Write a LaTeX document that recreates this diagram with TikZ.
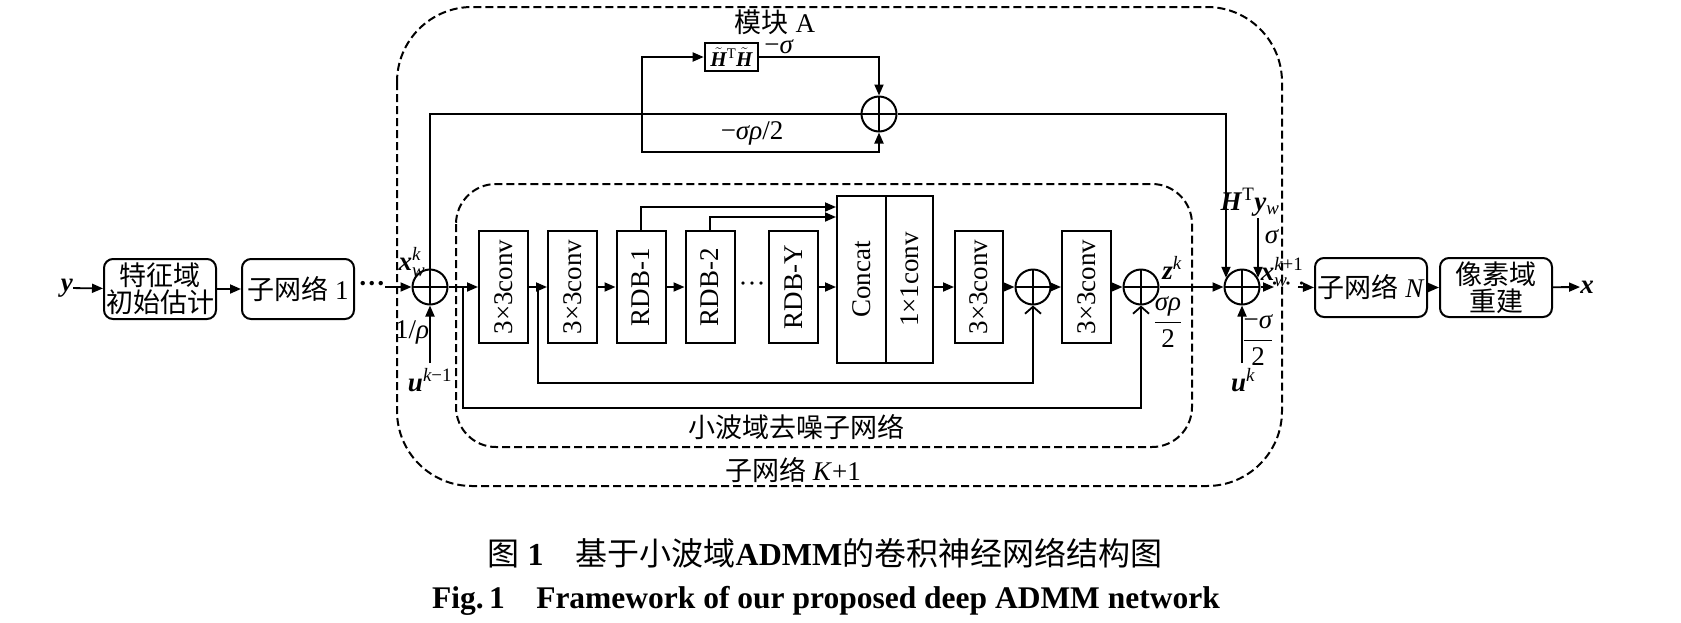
\RequirePackage{fix-cm}
\documentclass[tikz,border=0pt]{standalone}
\usepackage{amsmath}
\usepackage{fontspec}
\setmainfont{Liberation Serif}
\newfontfamily\cjk{Noto Sans CJK SC}
\usetikzlibrary{arrows.meta,calc}
\newcommand\bv[1]{\textbf{\textit{#1}}}
\newcommand\fs{\fontsize{27pt}{27pt}\selectfont}
\begin{document}
\begin{tikzpicture}[x=1pt,y=-1pt,font=\fs,
  ln/.style={line width=1.8pt},
  arr/.style={line width=1.8pt,-{Triangle[length=11pt,width=9pt]}},
  barb/.style={line width=1.8pt,-{Straight Barb[length=7pt,width=16pt,line width=1.8pt]}},
  sq/.style={draw,line width=2pt,minimum width=49pt,minimum height=112pt,inner sep=0pt},
  rbox/.style={draw,line width=2pt,rounded corners=9pt,minimum width=112pt,minimum height=60pt,inner sep=0pt,align=center},
  cjkbox/.style={rbox,font=\fontsize{27pt}{27pt}\selectfont\cjk},
  sum/.style={draw,circle,line width=2pt,minimum size=35pt,inner sep=0pt,
    path picture={\draw[line width=1.8pt] (path picture bounding box.north) -- (path picture bounding box.south) (path picture bounding box.west) -- (path picture bounding box.east);}},
  dbox/.style={draw,line width=2pt,dash pattern=on 8pt off 4pt},
  lbl/.style={inner sep=0pt}]
\useasboundingbox (0,0) rectangle (1681,622);

% dashed frames
\draw[dbox,rounded corners=75pt] (397,7) rectangle (1282,486);
\draw[dbox,rounded corners=40pt] (456,184) rectangle (1192,447);

% left chain
\node[lbl] (yin) at (67,288) {\bv{y}};
\node[cjkbox] (init) at (160,289) {特征域\\初始估计};
\node[rbox] (sub1) at (298,289) {{\cjk 子网络}~1};
\node[lbl] (dots1) at (372,287) {\textbf{···}};
\coordinate (d1) at (385,287);
\node[sum] (c1) at (430,287) {};

% inner denoiser
\node[sq] (conv1) at (503.5,287) {\rotatebox{90}{3×3conv}};
\node[sq] (conv2) at (572.5,287) {\rotatebox{90}{3×3conv}};
\node[sq] (rdb1) at (641,287) {\rotatebox{90}{RDB-1}};
\node[sq] (rdb2) at (710,287) {\rotatebox{90}{RDB-2}};
\node[lbl] (dots2) at (752,287) {···};
\node[sq] (rdby) at (793.5,287) {\rotatebox{90}{RDB-Y}};
\node[sq,minimum height=167pt] (concat) at (861.5,279.5) {\rotatebox{90}{Concat}};
\node[sq,minimum width=47pt,minimum height=167pt] (c11) at (909.5,279.5) {\rotatebox{90}{1×1conv}};
\node[sq,minimum width=48pt] (conv3) at (979,287) {\rotatebox{90}{3×3conv}};
\node[sum] (p1) at (1033,287) {};
\node[sq] (conv4) at (1086.5,287) {\rotatebox{90}{3×3conv}};
\node[sum] (p2) at (1141,287) {};

% update
\node[sum] (c3) at (1242,287) {};
\node[lbl] (dots3) at (1288,287) {·\,·\,·};
\coordinate (d3a) at (1274,287);
\coordinate (d3b) at (1298,287);
\node[rbox,minimum height=59pt] (subN) at (1371,287.5) {{\cjk 子网络}~\textit{N}};
\node[cjkbox,minimum height=59pt] (recon) at (1496,287.5) {像素域\\重建};
\node[lbl] (xout) at (1587,287) {\bv{x}};

% module A
\node[sum] (cTop) at (879,114) {};
\node[draw,line width=2.6pt,minimum width=53pt,minimum height=28pt,inner sep=1pt,font=\fontsize{21pt}{21pt}\selectfont] (HH) at (731.5,57) {$\tilde{\text{\bfseries\itshape H}}$\textsuperscript{T}$\tilde{\text{\bfseries\itshape H}}$};
\node[lbl] (modA) at (775,22) {{\cjk 模块}~A};
\node[lbl] (msig) at (779,47) {−\textit{σ}};
\node[lbl] (msr) at (752,133) {−\textit{σρ}/2};
\coordinate (tap) at (642,114);
\coordinate (lb) at (642,152);

% labels
\node[lbl] (lxk) at (412,262) {\bv{x}$_{\textit{w}}^{\textit{k}}$};
\node[lbl] (lrho) at (412,332) {1/\textit{ρ}};
\node[lbl] (luk1) at (430,380) {\bv{u}$^{\textit{k}\text{−1}}$};
\node[lbl] (lzk) at (1172,268) {\bv{z}$^{\textit{k}}$};
\node[lbl] (lsr) at (1168,322) {$\dfrac{\text{\itshape σρ}}{\text{2}}$};
\node[lbl] (lhty) at (1250,202) {\bv{H}$^{\text{T}}$\bv{y}$_{\textit{w}}$};
\node[lbl] (lsig) at (1272,237) {\textit{σ}};
\node[lbl] (lxk1) at (1282,272) {\bv{x}$_{\textit{w}}^{\textit{k}\text{+1}}$};
\node[lbl] (lms2) at (1258,340) {$\dfrac{\text{−\itshape σ}}{\text{2}}$};
\node[lbl] (luk) at (1243,380) {\bv{u}$^{\textit{k}}$};
\node[lbl] (lden) at (796,427) {\cjk 小波域去噪子网络};
\node[lbl] (lsubk) at (793,470) {{\cjk 子网络}~\textit{K}+1};

\coordinate (j1) at (463,287);
\coordinate (j2) at (538,287);
\coordinate (b1) at (1033,383);
\coordinate (b2) at (1141,408);
\coordinate (c1in) at (430,363);
\coordinate (c3in) at (1242,363);
\coordinate (sigtop) at (1257,218);

% connectors
\draw[arr] (yin) -- (init);
\draw[arr] (init) -- (sub1);
\draw[arr] (d1) -- (c1.west);
\draw[arr] (c1in) -- (c1.south);
\draw[arr] (c1.east) -- (conv1.west);
\draw[arr] (conv1.east) -- (conv2.west);
\draw[arr] (conv2.east) -- (rdb1.west);
\draw[arr] (rdb1.east) -- (rdb2.west);
\draw[arr] (rdby.east) -- (rdby.east -| concat.west);
\draw[arr] (rdb1.north) |- ($(concat.north west)+(0,12)$);
\draw[arr] (rdb2.north) |- ($(concat.north west)+(0,22)$);
\draw[arr] (c11.east |- conv3.west) -- (conv3.west);
\draw[arr] (conv3.east) -- (p1.west);
\draw[arr] (p1.east) -- (conv4.west);
\draw[arr] (conv4.east) -- (p2.west);
\draw[arr] (p2.east) -- (c3.west);
\draw[barb] (j2) |- (b1) -- (p1.south);
\draw[barb] (j1) |- (b2) -- (p2.south);
\draw[ln] (c1.north) |- (cTop.west);
\draw[arr] (tap) |- (HH.west);
\draw[arr] (HH.east) -| (cTop.north);
\draw[arr] (tap) -- (lb) -| (cTop.south);
\draw[arr] (cTop.east) -| (c3.150);
\draw[arr] (c3.30 |- sigtop) -- (c3.30);
\draw[arr] (c3in) -- (c3.south);
\draw[arr] (c3.east) -- (d3a);
\draw[arr] (d3b) -- (subN.west);
\draw[arr] (subN) -- (recon);
\draw[arr] (recon) -- (xout);

% caption
\node[lbl] (cap1) at (825,553) {\fontsize{32pt}{32pt}\selectfont{\cjk 图}~\textbf{1}\hspace{1em}{\cjk 基于小波域}\textbf{ADMM}{\cjk 的卷积神经网络结构图}};
\node[lbl] (cap2) at (826,601) {\fontsize{31.5pt}{32pt}\selectfont\bfseries Fig.\,1\hspace{1em}Framework of our proposed deep ADMM network};
\end{tikzpicture}
\end{document}
